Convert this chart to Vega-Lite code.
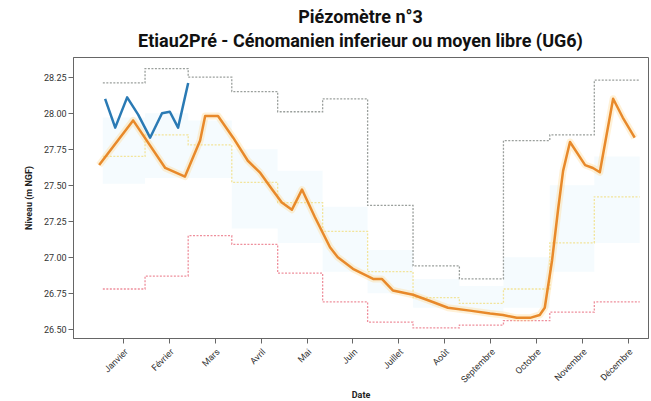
{
  "$schema": "https://vega.github.io/schema/vega-lite/v6.json",
  "width": 575,
  "height": 281,
  "autosize": {"type": "none"},
  "padding": {"left": 73, "top": 57, "right": 3, "bottom": 63},
  "background": "white",
  "config": {
    "font": "Roboto",
    "view": {"stroke": "#666", "strokeWidth": 1},
    "axis": {"domainColor": "#666", "tickColor": "#666", "labelColor": "#333", "labelFontSize": 9, "titleFontSize": 9, "titleFontWeight": "bold", "titleColor": "#222", "grid": false}
  },
  "title": {
    "text": ["Piézomètre n°3", "Etiau2Pré - Cénomanien inferieur ou moyen libre (UG6)"],
    "fontSize": 18,
    "fontWeight": "bold",
    "font": "Roboto",
    "color": "#111",
    "anchor": "middle",
    "offset": 6,
    "lineHeight": 24
  },
  "datasets": {
    "band": [
      {"x": 0.56, "lo": 27.51, "hi": 27.97},
      {"x": 1.48, "lo": 27.55, "hi": 28.0},
      {"x": 2.42, "lo": 27.55, "hi": 27.95},
      {"x": 3.37, "lo": 27.2, "hi": 27.75},
      {"x": 4.37, "lo": 27.1, "hi": 27.6},
      {"x": 5.35, "lo": 26.9, "hi": 27.35},
      {"x": 6.33, "lo": 26.75, "hi": 27.05},
      {"x": 7.32, "lo": 26.65, "hi": 26.85},
      {"x": 8.33, "lo": 26.62, "hi": 26.8},
      {"x": 9.29, "lo": 26.65, "hi": 27.0},
      {"x": 10.3, "lo": 26.9, "hi": 27.5},
      {"x": 11.27, "lo": 27.1, "hi": 27.7},
      {"x": 12.26, "lo": 27.1, "hi": 27.7}
    ],
    "steps": [
      {"serie": "max", "x": 0.56, "v": 28.21},
      {"serie": "max", "x": 1.48, "v": 28.31},
      {"serie": "max", "x": 2.42, "v": 28.25},
      {"serie": "max", "x": 3.37, "v": 28.15},
      {"serie": "max", "x": 4.37, "v": 28.01},
      {"serie": "max", "x": 5.35, "v": 28.10},
      {"serie": "max", "x": 6.33, "v": 27.36},
      {"serie": "max", "x": 7.32, "v": 26.94},
      {"serie": "max", "x": 8.33, "v": 26.85},
      {"serie": "max", "x": 9.29, "v": 27.81},
      {"serie": "max", "x": 10.3, "v": 27.85},
      {"serie": "max", "x": 11.27, "v": 28.23},
      {"serie": "max", "x": 12.26, "v": 28.23},
      {"serie": "med", "x": 0.56, "v": 27.70},
      {"serie": "med", "x": 1.48, "v": 27.85},
      {"serie": "med", "x": 2.42, "v": 27.78},
      {"serie": "med", "x": 3.37, "v": 27.52},
      {"serie": "med", "x": 4.37, "v": 27.38},
      {"serie": "med", "x": 5.35, "v": 27.18},
      {"serie": "med", "x": 6.33, "v": 26.90},
      {"serie": "med", "x": 7.32, "v": 26.72},
      {"serie": "med", "x": 8.33, "v": 26.68},
      {"serie": "med", "x": 9.29, "v": 26.78},
      {"serie": "med", "x": 10.3, "v": 27.10},
      {"serie": "med", "x": 11.27, "v": 27.42},
      {"serie": "med", "x": 12.26, "v": 27.42},
      {"serie": "min", "x": 0.56, "v": 26.78},
      {"serie": "min", "x": 1.48, "v": 26.87},
      {"serie": "min", "x": 2.42, "v": 27.15},
      {"serie": "min", "x": 3.37, "v": 27.09},
      {"serie": "min", "x": 4.37, "v": 26.89},
      {"serie": "min", "x": 5.35, "v": 26.69},
      {"serie": "min", "x": 6.33, "v": 26.55},
      {"serie": "min", "x": 7.32, "v": 26.51},
      {"serie": "min", "x": 8.33, "v": 26.53},
      {"serie": "min", "x": 9.29, "v": 26.56},
      {"serie": "min", "x": 10.3, "v": 26.62},
      {"serie": "min", "x": 11.27, "v": 26.69},
      {"serie": "min", "x": 12.26, "v": 26.69}
    ],
    "orange": [
      {"x": 0.48, "v": 27.64}, {"x": 1.22, "v": 27.95}, {"x": 1.92, "v": 27.62}, {"x": 2.35, "v": 27.56},
      {"x": 2.68, "v": 27.81}, {"x": 2.79, "v": 27.98}, {"x": 3.07, "v": 27.98}, {"x": 3.40, "v": 27.83},
      {"x": 3.72, "v": 27.67}, {"x": 3.98, "v": 27.59}, {"x": 4.25, "v": 27.47}, {"x": 4.46, "v": 27.38},
      {"x": 4.68, "v": 27.33}, {"x": 4.90, "v": 27.47}, {"x": 5.18, "v": 27.28}, {"x": 5.51, "v": 27.07},
      {"x": 5.68, "v": 27.00}, {"x": 6.01, "v": 26.92}, {"x": 6.45, "v": 26.85}, {"x": 6.64, "v": 26.85},
      {"x": 6.88, "v": 26.77}, {"x": 7.32, "v": 26.74}, {"x": 7.75, "v": 26.69}, {"x": 8.08, "v": 26.65},
      {"x": 8.56, "v": 26.63}, {"x": 9.00, "v": 26.61}, {"x": 9.28, "v": 26.60}, {"x": 9.58, "v": 26.58},
      {"x": 9.87, "v": 26.58}, {"x": 10.08, "v": 26.60}, {"x": 10.19, "v": 26.65}, {"x": 10.35, "v": 26.98},
      {"x": 10.48, "v": 27.33}, {"x": 10.59, "v": 27.60}, {"x": 10.74, "v": 27.80}, {"x": 11.07, "v": 27.64},
      {"x": 11.24, "v": 27.62}, {"x": 11.39, "v": 27.59}, {"x": 11.68, "v": 28.10}, {"x": 11.89, "v": 27.97},
      {"x": 12.15, "v": 27.83}
    ],
    "blue": [
      {"x": 0.61, "v": 28.10}, {"x": 0.83, "v": 27.90}, {"x": 1.09, "v": 28.11}, {"x": 1.33, "v": 27.99},
      {"x": 1.59, "v": 27.83}, {"x": 1.85, "v": 28.00}, {"x": 2.02, "v": 28.01}, {"x": 2.20, "v": 27.90},
      {"x": 2.42, "v": 28.21}
    ]
  },
  "encoding": {
    "x": {
      "field": "x", "type": "quantitative",
      "scale": {"domain": [-0.09, 12.44], "nice": false, "zero": false},
      "axis": {
        "title": "Date",
        "values": [1,2,3,4,5,6,7,8,9,10,11,12],
        "labelExpr": "['Janvier','Février','Mars','Avril','Mai','Juin','Juillet','Août','Septembre','Octobre','Novembre','Décembre'][datum.value-1]",
        "labelAngle": -45,
        "labelAlign": "right",
        "labelBaseline": "top",
        "labelPadding": 4,
        "titlePadding": 6
      }
    },
    "y": {
      "field": "v", "type": "quantitative",
      "scale": {"domain": [26.44, 28.39], "nice": false, "zero": false},
      "axis": {
        "title": "Niveau (m NGF)",
        "values": [26.5, 26.75, 27.0, 27.25, 27.5, 27.75, 28.0, 28.25],
        "format": ".2f",
        "titlePadding": 10
      }
    }
  },
  "layer": [
    {
      "data": {"name": "band"},
      "mark": {"type": "area", "interpolate": "step-after", "color": "#eef8fd", "opacity": 0.6},
      "encoding": {"y": {"field": "lo", "type": "quantitative"}, "y2": {"field": "hi"}}
    },
    {
      "data": {"name": "steps"},
      "mark": {"type": "line", "interpolate": "step-after", "strokeWidth": 1.3, "strokeDash": [2, 1.5]},
      "encoding": {
        "color": {
          "field": "serie", "type": "nominal", "legend": null,
          "scale": {"domain": ["max", "med", "min"], "range": ["#9a9f9c", "#f2e49a", "#ee8f9c"]}
        }
      }
    },
    {
      "data": {"name": "orange"},
      "mark": {"type": "line", "color": "#ffcf7a", "strokeWidth": 7, "opacity": 0.3, "strokeJoin": "round"},
      "encoding": {}
    },
    {
      "data": {"name": "orange"},
      "mark": {"type": "line", "color": "#e8892a", "strokeWidth": 2.5, "strokeJoin": "round"},
      "encoding": {}
    },
    {
      "data": {"name": "blue"},
      "mark": {"type": "line", "color": "#2a7ab4", "strokeWidth": 2.5, "strokeJoin": "round"},
      "encoding": {}
    }
  ]
}
